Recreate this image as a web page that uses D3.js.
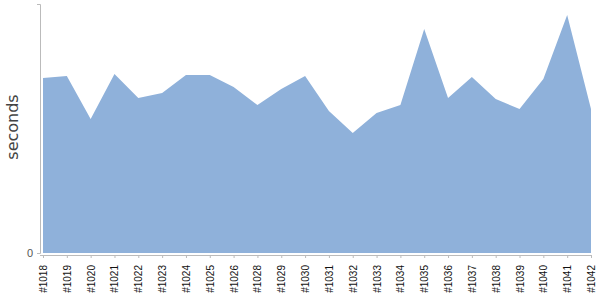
<!DOCTYPE html>
<html>
<head>
<meta charset="utf-8">
<script src="https://cdn.jsdelivr.net/npm/d3@7"></script>
<style>
  body { margin: 0; background: #fff; }
  svg { display: block; font-family: "DejaVu Sans", sans-serif; }
  .axis path, .axis line { stroke: #bbb; }
</style>
</head>
<body>
<div id="chart"></div>
<script>
// build numbers on the x axis
const builds = ["#1018","#1019","#1020","#1021","#1022","#1023","#1024","#1025","#1026","#1028",
                "#1029","#1030","#1031","#1032","#1033","#1034","#1035","#1036","#1037","#1038",
                "#1039","#1040","#1041","#1042"];
// duration of each build (seconds)
const durations = [175,177,134,179,155,160,178,178,166,148,
                   164,177,142,120,140,148,224,155,176,154,
                   144,174,238,144];
const yTicks = [0];

const w = 600;
const h = 300;

const svg = d3.select("#chart").append("svg")
    .attr("width", w)
    .attr("height", h);

//x scale, one point per build
const xScale = d3.scalePoint()
    .domain(builds)
    .range([43, 591]);

//y scale
const yScale = d3.scaleLinear()
    .domain([0, 249])
    .range([253, 4]);

//area under the durations
const area = d3.area()
    .x((d, i) => xScale(builds[i]))
    .y0(yScale(0))
    .y1(d => yScale(d));

svg.append("path")
    .datum(durations)
    .attr("d", area)
    .attr("fill", "#8fb1da");

//left axis
const yAxis = d3.axisLeft(yScale)
    .tickValues(yTicks)
    .tickSizeOuter(0)
    .tickSize(3);

svg.append("g")
    .attr("class", "axis")
    .attr("transform", "translate(40,0)")
    .call(yAxis)
    .call(g => g.selectAll("text")
        .attr("font-size", 11)
        .attr("fill", "#555")
        .attr("x", -7));

//bottom axis
const xAxis = d3.axisBottom(xScale)
    .tickSizeOuter(0)
    .tickSize(3);

svg.append("g")
    .attr("class", "axis")
    .attr("transform", "translate(0,255)")
    .call(xAxis)
    .call(g => g.select(".domain").attr("d", "M40,0.5H591"))
    .call(g => g.selectAll("text")
        .attr("font-size", 10)
        .attr("fill", "#111")
        .attr("transform", "rotate(-90)")
        .attr("text-anchor", "end")
        .attr("x", -10)
        .attr("y", 0)
        .attr("dy", "0.35em"));

//y label
svg.append("text")
    .attr("transform", "translate(18,127) rotate(-90)")
    .attr("text-anchor", "middle")
    .attr("font-size", 16)
    .attr("fill", "#444")
    .text("seconds");
</script>
</body>
</html>
